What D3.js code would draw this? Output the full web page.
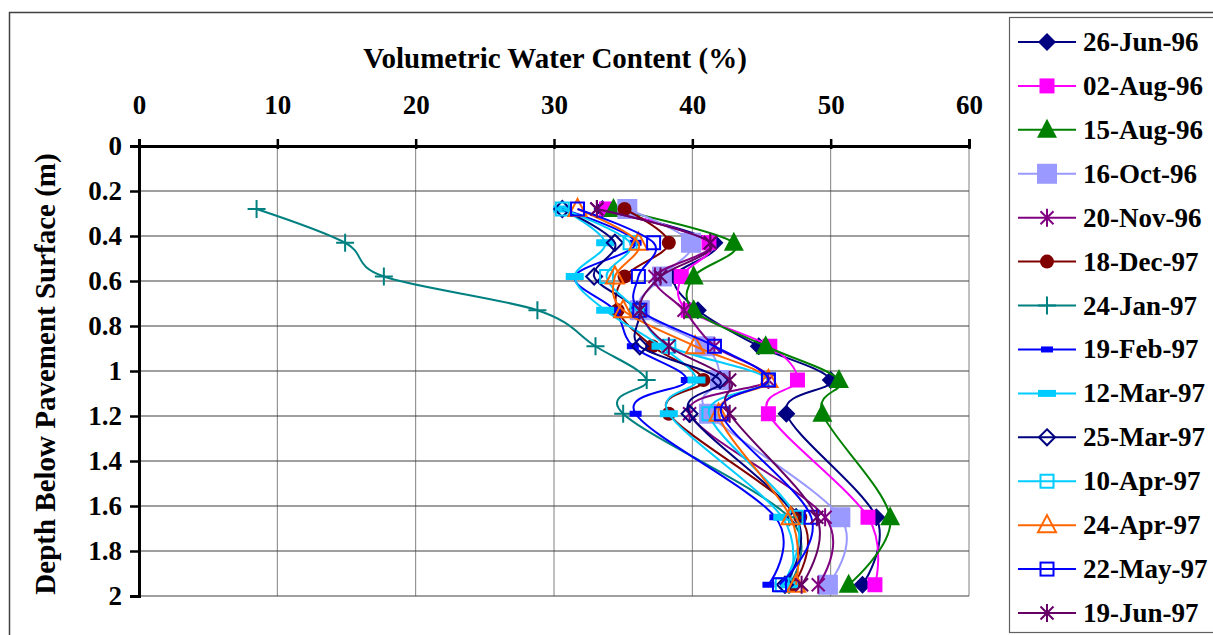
<!DOCTYPE html>
<html>
<head>
<meta charset="utf-8">
<script src="https://cdn.jsdelivr.net/npm/d3@7"></script>
<style>
  body { margin: 0; background: #fff; }
  text { font-family: "Liberation Serif", "Times New Roman", serif; font-weight: bold; }
</style>
</head>
<body>
<div id="chart"></div>
<script>
// depths (m) where readings were taken
const depths = [0.28, 0.43, 0.58, 0.73, 0.89, 1.04, 1.19, 1.65, 1.95];

const seriesNames = ['26-Jun-96', '02-Aug-96', '15-Aug-96', '16-Oct-96', '20-Nov-96', '18-Dec-97', '24-Jan-97',
                     '19-Feb-97', '12-Mar-97', '25-Mar-97', '10-Apr-97', '24-Apr-97', '22-May-97', '19-Jun-97'];

// volumetric water content (%) per series, one value per depth
const jun26_96 = [33.5, 41.6, 38.7, 40.4, 44.8, 50.0, 46.8, 53.3, 52.3];
const aug02_96 = [33.8, 41.2, 39.2, 39.7, 45.6, 47.6, 45.5, 52.7, 53.2];
const aug15_96 = [34.3, 43.0, 40.1, 40.1, 45.3, 50.6, 49.4, 54.3, 51.3];
const oct16_96 = [35.3, 39.9, 37.8, 36.2, 40.9, 42.0, 41.2, 50.7, 49.8];
const nov20_96 = [33.1, 41.3, 37.3, 39.4, 41.6, 45.5, 39.8, 49.6, 49.1];
const dec18_97 = [35.1, 38.3, 35.1, 34.6, 37.1, 40.8, 38.3, 47.8, 47.3];
const jan24_97 = [8.5, 14.9, 17.7, 28.8, 33.0, 36.7, 35.0, 47.0, 47.0];
const feb19_97 = [30.6, 35.9, 31.5, 34.4, 35.7, 39.6, 35.9, 46.0, 45.5];
const mar12_97 = [30.6, 33.7, 31.5, 33.7, 37.7, 40.3, 38.3, 46.5, 47.0];
const mar25_97 = [30.6, 34.4, 32.9, 36.0, 36.2, 42.0, 39.8, 47.5, 46.7];
const apr10_97 = [30.6, 35.5, 33.8, 36.0, 38.3, 45.5, 41.2, 47.5, 46.5];
const apr24_97 = [31.7, 36.1, 34.4, 35.0, 40.2, 45.5, 41.9, 47.1, 47.5];
const may22_97 = [31.7, 37.2, 36.1, 36.2, 41.6, 45.5, 42.1, 48.6, 46.3];
const jun19_97 = [33.1, 41.3, 37.7, 36.2, 38.3, 42.7, 42.7, 49.0, 47.9];

const seriesValues = [jun26_96, aug02_96, aug15_96, oct16_96, nov20_96, dec18_97, jan24_97,
                      feb19_97, mar12_97, mar25_97, apr10_97, apr24_97, may22_97, jun19_97];

const xTicks = [0, 10, 20, 30, 40, 50, 60];
const yTicks = [0, 0.2, 0.4, 0.6, 0.8, 1, 1.2, 1.4, 1.6, 1.8, 2];

// look of each series
const styles = [
  {color: '#000080', marker: 'diamond'},
  {color: '#FF00FF', marker: 'square'},
  {color: '#008000', marker: 'triangle'},
  {color: '#9999FF', marker: 'bigsquare'},
  {color: '#800080', marker: 'star'},
  {color: '#800000', marker: 'circle'},
  {color: '#008080', marker: 'plus'},
  {color: '#0000FF', marker: 'dash'},
  {color: '#00CCFF', marker: 'longdash'},
  {color: '#000080', marker: 'odiamond'},
  {color: '#00CCFF', marker: 'osquare'},
  {color: '#FF6600', marker: 'otriangle'},
  {color: '#0000FF', marker: 'osquare'},
  {color: '#660066', marker: 'star'}
];

const width = 1213, height = 635;
const margin = {top: 146, left: 139, right: 1213 - 969, bottom: 635 - 596};

const svg = d3.create('svg').attr('width', width).attr('height', height);

// outer chart border (runs off the page at right/bottom)
svg.append('path')
  .attr('d', `M9.5,${height + 2}V12.5H${width + 2}`)
  .attr('fill', 'none').attr('stroke', '#404040').attr('stroke-width', 1.5);

const x = d3.scaleLinear().domain([0, 60]).range([margin.left, width - margin.right]);
const y = d3.scaleLinear().domain([0, 2]).range([margin.top, height - margin.bottom]);

// gridlines
svg.append('g').selectAll('line').data(xTicks.slice(1))
  .join('line')
  .attr('x1', d => x(d)).attr('x2', d => x(d))
  .attr('y1', y(0)).attr('y2', y(2))
  .attr('stroke', '#808080').attr('stroke-width', 1);
svg.append('g').selectAll('line').data(yTicks.slice(1))
  .join('line')
  .attr('x1', x(0)).attr('x2', x(60))
  .attr('y1', d => y(d)).attr('y2', d => y(d))
  .attr('stroke', '#404040').attr('stroke-width', 1.2);

// axes
const xAxis = svg.append('g')
  .attr('transform', `translate(0, ${y(0)})`)
  .call(d3.axisTop(x).tickValues(xTicks).tickSize(7).tickPadding(25).tickFormat(d3.format('d')));
xAxis.select('.domain').attr('stroke', '#000').attr('stroke-width', 3);
xAxis.selectAll('.tick line').attr('stroke-width', 2.5).attr('y2', -7).attr('y1', 3);
xAxis.selectAll('.tick text').attr('font-size', 27).attr('fill', '#000')
  .attr('font-family', '"Liberation Serif", serif').attr('font-weight', 'bold');

const yAxis = svg.append('g')
  .attr('transform', `translate(${x(0)}, 0)`)
  .call(d3.axisLeft(y).tickValues(yTicks).tickSize(9).tickPadding(8).tickFormat(d => d));
yAxis.select('.domain').attr('stroke', '#000').attr('stroke-width', 3);
yAxis.selectAll('.tick line').attr('stroke-width', 2.5);
yAxis.selectAll('.tick text').attr('font-size', 27).attr('fill', '#000')
  .attr('font-family', '"Liberation Serif", serif').attr('font-weight', 'bold');

// axis titles
svg.append('text')
  .attr('x', 555).attr('y', 68)
  .attr('text-anchor', 'middle')
  .attr('font-size', 29)
  .text('Volumetric Water Content (%)');
svg.append('text')
  .attr('transform', `translate(55, ${y(1) + 3}) rotate(-90)`)
  .attr('text-anchor', 'middle')
  .attr('font-size', 29)
  .text('Depth Below Pavement Surface (m)');

// marker drawing
function drawMarker(g, type, color) {
  switch (type) {
    case 'diamond':
      g.append('path').attr('d', 'M0,-9L9,0L0,9L-9,0Z').attr('fill', color); break;
    case 'odiamond':
      g.append('path').attr('d', 'M0,-8L8,0L0,8L-8,0Z').attr('fill', 'none').attr('stroke', color).attr('stroke-width', 2); break;
    case 'square':
      g.append('rect').attr('x', -7.5).attr('y', -7.5).attr('width', 15).attr('height', 15).attr('fill', color); break;
    case 'bigsquare':
      g.append('rect').attr('x', -10).attr('y', -10).attr('width', 20).attr('height', 20).attr('fill', color); break;
    case 'osquare':
      g.append('rect').attr('x', -6.5).attr('y', -6.5).attr('width', 13).attr('height', 13).attr('fill', 'none').attr('stroke', color).attr('stroke-width', 2); break;
    case 'triangle':
      g.append('path').attr('d', 'M0,-11L10,8L-10,8Z').attr('fill', color); break;
    case 'otriangle':
      g.append('path').attr('d', 'M0,-10L9,7L-9,7Z').attr('fill', 'none').attr('stroke', color).attr('stroke-width', 2); break;
    case 'circle':
      g.append('circle').attr('r', 7).attr('fill', color); break;
    case 'plus':
      g.append('path').attr('d', 'M-9,0H9M0,-9V9').attr('stroke', color).attr('stroke-width', 2); break;
    case 'star':
      g.append('path').attr('d', 'M-6.5,-6.5L6.5,6.5M-6.5,6.5L6.5,-6.5M0,-9V9').attr('stroke', color).attr('stroke-width', 2); break;
    case 'dash':
      g.append('rect').attr('x', -6).attr('y', -3).attr('width', 12).attr('height', 6).attr('fill', color); break;
    case 'longdash':
      g.append('rect').attr('x', -9).attr('y', -3.5).attr('width', 18).attr('height', 7).attr('fill', color); break;
  }
}

// series: smoothed lines plus markers
const line = d3.line()
  .x(d => x(d[0]))
  .y(d => y(d[1]))
  .curve(d3.curveCatmullRom.alpha(0));

const plot = svg.append('g');
seriesValues.forEach(function(vals, i) {
  const pts = vals.map((v, k) => [v, depths[k]]);
  const s = plot.append('g');
  s.append('path')
    .attr('d', line(pts))
    .attr('fill', 'none')
    .attr('stroke', styles[i].color)
    .attr('stroke-width', 2);
  s.selectAll('g.m').data(pts).join('g')
    .attr('class', 'm')
    .attr('transform', d => `translate(${x(d[0])}, ${y(d[1])})`)
    .each(function() { drawMarker(d3.select(this), styles[i].marker, styles[i].color); });
});

// legend
const legend = svg.append('g');
legend.append('rect')
  .attr('x', 1009.5).attr('y', 17.5).attr('width', 210).attr('height', 615)
  .attr('fill', '#fff').attr('stroke', '#606060').attr('stroke-width', 1.2);
const rowY = d3.scaleLinear().domain([0, seriesNames.length - 1]).range([42, 613]);
seriesNames.forEach(function(name, i) {
  const g = legend.append('g').attr('transform', `translate(0, ${rowY(i)})`);
  g.append('line').attr('x1', 1018).attr('x2', 1076).attr('y1', 0).attr('y2', 0)
    .attr('stroke', styles[i].color).attr('stroke-width', 2);
  const m = g.append('g').attr('transform', 'translate(1047, 0)');
  drawMarker(m, styles[i].marker, styles[i].color);
  g.append('text').attr('x', 1083).attr('y', 9).attr('font-size', 27).text(name);
});

document.getElementById('chart').appendChild(svg.node());
</script>
</body>
</html>
